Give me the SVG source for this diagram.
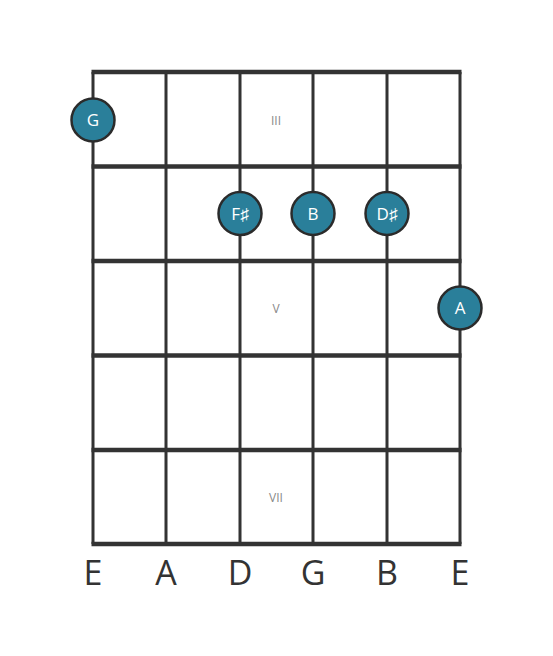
<svg xmlns="http://www.w3.org/2000/svg" width="553" height="656" viewBox="0 0 553 656">
<style>
.str{stroke:#333;stroke-width:3}
.fret{stroke:#333;stroke-width:4.5}
.note circle{fill:#2a7f9a;stroke:#2b2b2b;stroke-width:2.5}
.note text{fill:#fff;font-family:"Open Sans",sans-serif;font-size:17px;text-anchor:middle}
.pos{fill:#888;font-family:"Open Sans",sans-serif;font-size:12px;text-anchor:middle}
.lbl{fill:#333;font-family:"Open Sans",sans-serif;font-size:34px;text-anchor:middle}
</style>
<rect width="553" height="656" fill="#fff"/>
<g id="fretboard">
<line class="str" x1="93" y1="72" x2="93" y2="544"/>
<line class="str" x1="166" y1="72" x2="166" y2="544"/>
<line class="str" x1="240" y1="72" x2="240" y2="544"/>
<line class="str" x1="313" y1="72" x2="313" y2="544"/>
<line class="str" x1="387" y1="72" x2="387" y2="544"/>
<line class="str" x1="460" y1="72" x2="460" y2="544"/>
<line class="fret" x1="91.5" y1="72" x2="461.5" y2="72"/>
<line class="fret" x1="91.5" y1="166.5" x2="461.5" y2="166.5"/>
<line class="fret" x1="91.5" y1="261" x2="461.5" y2="261"/>
<line class="fret" x1="91.5" y1="355.5" x2="461.5" y2="355.5"/>
<line class="fret" x1="91.5" y1="450" x2="461.5" y2="450"/>
<line class="fret" x1="91.5" y1="544" x2="461.5" y2="544"/>
</g>
<g id="positions">
<text class="pos" x="276" y="124.5">III</text>
<text class="pos" x="276" y="313">V</text>
<text class="pos" x="276" y="501.5">VII</text>
</g>
<g id="note-G" class="note"><circle cx="93" cy="120" r="21.5"/><text x="93" y="126">G</text></g>
<g id="note-Fsharp" class="note"><circle cx="240" cy="213.5" r="21.5"/><text x="240" y="219.5">F♯</text></g>
<g id="note-B" class="note"><circle cx="313" cy="213.5" r="21.5"/><text x="313" y="219.5">B</text></g>
<g id="note-Dsharp" class="note"><circle cx="387" cy="213.5" r="21.5"/><text x="387" y="219.5">D♯</text></g>
<g id="note-A" class="note"><circle cx="460" cy="308" r="21.5"/><text x="460" y="314">A</text></g>
<g id="labels">
<text class="lbl" x="93" y="585">E</text>
<text class="lbl" x="166" y="585">A</text>
<text class="lbl" x="240" y="585">D</text>
<text class="lbl" x="313" y="585">G</text>
<text class="lbl" x="387" y="585">B</text>
<text class="lbl" x="460" y="585">E</text>
</g>
</svg>
